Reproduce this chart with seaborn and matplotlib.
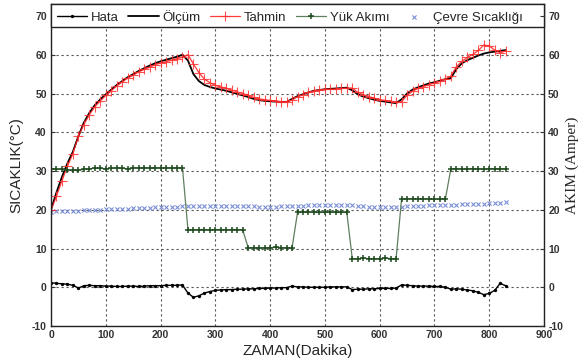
import numpy as np
import pandas as pd
import matplotlib
matplotlib.use("Agg")
import matplotlib.pyplot as plt
from matplotlib.patches import Rectangle
import seaborn as sns

# ---- data ----
zaman = list(range(0, 840, 10))

olcum = [20.0, 24.5, 28.5, 32.0, 35.0, 39.0, 42.5, 45.0, 47.0, 48.5,
         49.8, 51.0, 52.2, 53.2, 54.2, 55.0, 55.8, 56.5, 57.2, 57.8,
         58.3, 58.7, 59.1, 59.5, 60.0, 58.5, 55.0, 53.2, 52.2, 51.7,
         51.3, 51.0, 50.7, 50.3, 49.9, 49.5, 49.1, 48.6, 48.3, 48.1,
         48.0, 47.9, 47.8, 47.8, 48.6, 49.3, 49.8, 50.3, 50.7, 50.9,
         51.1, 51.2, 51.3, 51.4, 51.5, 50.8, 49.8, 49.2, 48.8, 48.4,
         48.1, 47.9, 47.7, 47.5, 48.5, 50.0, 51.0, 51.6, 52.1, 52.6,
         52.9, 53.3, 53.7, 54.0, 56.3, 57.8, 58.6, 59.2, 59.8, 60.3,
         60.6, 60.8, 61.0, 61.2]

tahmin = [20.0, 23.5, 27.5, 31.2, 34.5, 39.0, 42.0, 44.5, 46.6, 48.1,
          49.5, 50.7, 52.0, 53.0, 54.0, 54.7, 55.6, 56.2, 56.8, 57.4,
          57.9, 58.2, 58.6, 59.0, 59.4, 60.0, 57.6, 55.4, 53.7, 52.8,
          52.1, 51.7, 51.3, 50.9, 50.4, 50.0, 49.5, 49.0, 48.6, 48.4,
          48.2, 48.1, 47.9, 47.9, 48.3, 49.2, 49.7, 50.3, 50.7, 50.9,
          51.1, 51.1, 51.2, 51.3, 51.4, 51.4, 50.3, 49.7, 49.2, 48.8,
          48.4, 48.2, 48.0, 47.7, 47.9, 49.5, 50.6, 51.3, 51.8, 52.3,
          52.7, 53.1, 53.7, 54.5, 56.9, 58.3, 59.3, 60.1, 61.1, 62.5,
          62.3, 61.2, 60.5, 61.0]

hata = [1.2, 1.0, 0.9, 0.8, 0.5, -0.2, 0.4, 0.5, 0.4, 0.4,
        0.3, 0.3, 0.2, 0.2, 0.3, 0.3, 0.2, 0.3, 0.4, 0.4,
        0.4, 0.5, 0.5, 0.5, 0.6, -1.5, -2.6, -2.2, -1.5, -1.1,
        -0.8, -0.7, -0.6, -0.6, -0.5, -0.5, -0.4, -0.4, -0.3, -0.3,
        -0.2, -0.2, -0.1, -0.1, 0.3, 0.1, 0.1, 0.0, 0.0, 0.0,
        0.0, 0.1, 0.1, 0.1, 0.1, -0.6, -0.5, -0.5, -0.4, -0.4,
        -0.3, -0.3, -0.3, -0.2, 0.6, 0.5, 0.4, 0.3, 0.3, 0.3,
        0.2, 0.2, 0.0, -0.5, -0.4, -0.5, -0.7, -0.9, -1.3, -1.9,
        -1.6, -0.8, 1.0, 0.4]

yuk_akimi = [30.6, 30.5, 30.4, 30.3, 30.2, 30.2, 30.4, 30.6, 30.7, 30.7,
             30.6, 30.7, 30.8, 30.7, 30.6, 30.8, 30.8, 30.8, 30.8, 30.8,
             30.8, 30.8, 30.8, 30.8, 30.8,
             14.9, 14.8, 14.9, 14.9, 14.8, 14.9, 14.9, 14.8, 14.9, 14.9, 14.8,
             10.2, 10.2, 10.1, 10.2, 10.2, 10.3, 10.2, 10.2, 10.1,
             19.3, 19.3, 19.4, 19.3, 19.3, 19.3, 19.4, 19.3, 19.3, 19.3,
             7.4, 7.4, 7.5, 7.4, 7.4, 7.4, 7.5, 7.4, 7.4,
             22.8, 22.8, 22.9, 22.8, 22.8, 22.8, 22.7, 22.8, 22.8,
             30.6, 30.6, 30.5, 30.6, 30.6, 30.6, 30.5, 30.6, 30.6, 30.6, 30.6]

cevre = [19.5, 19.6, 19.6, 19.7, 19.7, 19.8, 19.9, 19.9, 20.0, 20.0,
         20.1, 20.1, 20.2, 20.2, 20.3, 20.4, 20.4, 20.5, 20.5, 20.6,
         20.6, 20.7, 20.8, 20.8, 20.9, 21.0, 20.9, 20.9, 20.9, 21.0,
         21.0, 21.0, 21.0, 20.9, 20.9, 20.9, 20.9, 20.9, 20.8, 20.8,
         20.8, 20.8, 20.9, 20.9, 20.9, 21.0, 21.0, 21.1, 21.1, 21.2,
         21.2, 21.2, 21.3, 21.3, 21.3, 21.2, 21.0, 20.9, 20.8, 20.7,
         20.7, 20.7, 20.7, 20.8, 20.8, 20.9, 20.9, 21.0, 21.0, 21.1,
         21.1, 21.1, 21.2, 21.3, 21.3, 21.4, 21.4, 21.5, 21.5, 21.6,
         21.7, 21.7, 21.8, 21.9]

labels = ["Hata", "Ölçüm", "Tahmin", "Yük Akımı", "Çevre Sıcaklığı"]
x_ticks = list(range(0, 1000, 100))
y_ticks = list(range(-10, 80, 10))

df = pd.DataFrame({"t": zaman, "olcum": olcum, "tahmin": tahmin,
                   "hata": hata, "yuk": yuk_akimi, "cevre": cevre})

# ---- style ----
sns.set_theme(style="white")
plt.rcParams["font.family"] = ["Liberation Sans", "DejaVu Sans"]

fig = plt.figure(figsize=(5.81, 3.62), dpi=100)
ax = fig.add_axes([0.0878, 0.0994, 0.8485, 0.8896])

tick_font = {"family": ["Liberation Sans Narrow", "Liberation Sans", "DejaVu Sans"],
             "size": 7.5, "weight": "bold"}

sns.lineplot(data=df, x="t", y="hata", ax=ax, color="black", lw=1.0,
             marker="o", markersize=2.4, markeredgewidth=0,
             markeredgecolor="black", label=labels[0])
sns.lineplot(data=df, x="t", y="olcum", ax=ax, color="black", lw=1.3,
             label=labels[1])
sns.lineplot(data=df, x="t", y="tahmin", ax=ax, color="#ff1a1a", lw=0.9,
             marker="+", markersize=7, markeredgewidth=0.8,
             markeredgecolor="#ff3030", alpha=0.85, label=labels[2])
sns.lineplot(data=df, x="t", y="yuk", ax=ax, color="#5f7f5f", lw=0.9,
             marker="+", markersize=5, markeredgewidth=1.1,
             markeredgecolor="#1f4a1f", label=labels[3])
sns.scatterplot(data=df, x="t", y="cevre", ax=ax, color="#7b8fd6",
                marker="x", s=9, linewidth=0.8, label=labels[4])

ax.set_xlim(0, 900)
ax.set_ylim(-10, 73.1)
ax.set_xticks(x_ticks)
ax.set_yticks(y_ticks)
ax.set_xticklabels([str(v) for v in x_ticks], fontdict=tick_font)
ax.set_yticklabels([str(v) for v in y_ticks], fontdict=tick_font)
ax.tick_params(direction="in", length=3, width=0.8, pad=3, colors="#333333")
ax.grid(True, color="#555555", linestyle=(0, (2, 2.5)), linewidth=0.8)
for s in ax.spines.values():
    s.set_color("#222222")
    s.set_linewidth(1.0)

ax.set_xlabel("ZAMAN(Dakika)", fontsize=11, labelpad=3)
ax.set_ylabel("SICAKLIK(°C)", fontsize=11, labelpad=6)

ax2 = ax.twinx()
ax2.set_ylim(-10, 73.1)
ax2.set_yticks(y_ticks)
ax2.set_yticklabels([str(v) for v in y_ticks], fontdict=tick_font)
ax2.tick_params(direction="in", length=3, width=0.8, pad=3, colors="#333333")
ax2.set_ylabel("AKIM (Amper)", fontsize=11,
               family=["Liberation Serif", "DejaVu Serif"], labelpad=2)
for s in ax2.spines.values():
    s.set_visible(False)

# legend frame spanning the full axes width
ax_h_px = 0.8896 * 362
box_h = 23.0 / ax_h_px
frame = Rectangle((0, 1 - box_h), 1, box_h, transform=ax.transAxes,
                  facecolor="white", edgecolor="#222222", linewidth=1.0,
                  zorder=9, clip_on=False)
ax.add_patch(frame)

leg = ax.legend(loc="upper left", bbox_to_anchor=(0.0, 1.0), ncol=5,
                borderaxespad=0, fontsize=9.5, frameon=False,
                handlelength=2.3, handletextpad=0.25,
                columnspacing=0.75, borderpad=0.45)
leg.set_zorder(10)

fig.savefig("out.png", dpi=100)
